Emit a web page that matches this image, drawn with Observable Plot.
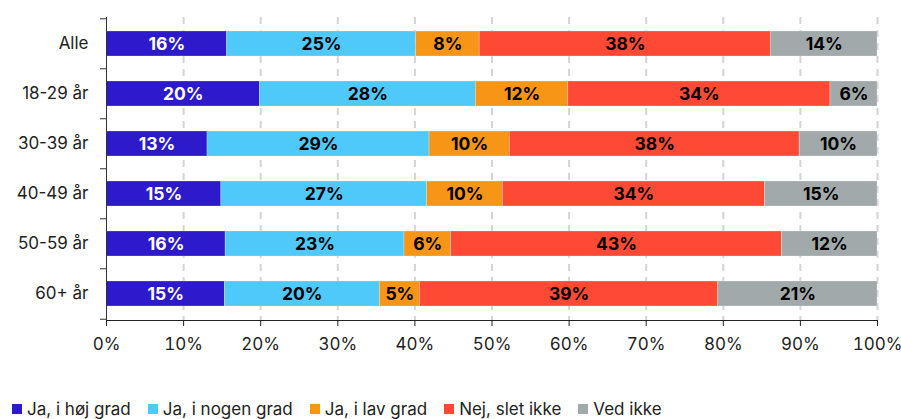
<!DOCTYPE html>
<html>
<head>
<meta charset="utf-8">
<script src="https://cdn.jsdelivr.net/npm/d3@7"></script>
<script src="https://cdn.jsdelivr.net/npm/@observablehq/plot@0.6"></script>
<style>
  html, body { margin: 0; padding: 0; background: #fff; }
  body { width: 901px; height: 419px; overflow: hidden; font-family: Inter, "Liberation Sans", sans-serif; }
  #chart svg { display: block; }
  .legend { display: flex; align-items: center; margin-top: 24px; padding-left: 12px; font-size: 17px; line-height: 20px; color: #222; }
  .legend .item { display: flex; align-items: center; margin-right: 17px; }
  .legend .sw { width: 10px; height: 10px; margin-right: 5px; display: inline-block; }
</style>
</head>
<body>
<div id="chart"></div>
<script>
const categories = ["Alle", "18-29 år", "30-39 år", "40-49 år", "50-59 år", "60+ år"];
const seriesNames = ["Ja, i høj grad", "Ja, i nogen grad", "Ja, i lav grad", "Nej, slet ikke", "Ved ikke"];
const seriesColors = ["#2c1acb", "#4ec9f9", "#f79516", "#fe4a35", "#a2a9aa"];
// shares per category (in series order)
const values = [
  [15.65, 24.5, 8.25, 37.8, 13.8],
  [19.9, 28.0, 12.0, 34.0, 6.1],
  [13.1, 28.8, 10.4, 37.6, 10.1],
  [14.9, 26.7, 9.8, 34.0, 14.6],
  [15.45, 23.2, 6.05, 42.9, 12.4],
  [15.35, 20.1, 5.2, 38.7, 20.65]
];
// printed labels
const labels = [
  [16, 25, 8, 38, 14],
  [20, 28, 12, 34, 6],
  [13, 29, 10, 38, 10],
  [15, 27, 10, 34, 15],
  [16, 23, 6, 43, 12],
  [15, 20, 5, 39, 21]
];
const xTicks = [0, 10, 20, 30, 40, 50, 60, 70, 80, 90, 100];

const data = [];
categories.forEach((c, i) => seriesNames.forEach((s, j) => data.push({cat: c, series: s, value: values[i][j], label: labels[i][j]})));

const W = 901, H = 375;
const step = (320 - 17) / categories.length;

const plot = Plot.plot({
  width: W,
  height: H,
  marginLeft: 106,
  marginRight: 24,
  marginTop: 17,
  marginBottom: H - 320,
  style: {fontFamily: "Inter, 'Liberation Sans', sans-serif", fontSize: "17px", color: "#222", background: "#fff"},
  x: {domain: [0, 100], ticks: xTicks, tickFormat: d => d + "%", tickSize: 6, tickPadding: 11, label: null, line: true},
  y: {domain: categories, paddingInner: 0.5, paddingOuter: 0.25, tickSize: 0, tickPadding: 18, label: null},
  color: {domain: seriesNames, range: seriesColors},
  marks: [
    Plot.ruleX(xTicks.filter(d => d > 0), {x: d => d, stroke: "#d4d4d4", strokeWidth: 2, strokeDasharray: "7,6"}),
    Plot.barX(data, Plot.stackX({y: "cat", x: "value", fill: "series", stroke: "#fff", strokeOpacity: 0.5, strokeWidth: 0.5})),
    Plot.text(data, Plot.stackX({y: "cat", x: "value", z: "series", text: d => d.series === seriesNames[0] ? d.label + "%" : null, fill: "#fff", fontWeight: 700, fontSize: 17.5})),
    Plot.text(data, Plot.stackX({y: "cat", x: "value", z: "series", text: d => d.series !== seriesNames[0] ? d.label + "%" : null, fill: "#000", fontWeight: 700, fontSize: 17.5})),
    Plot.ruleX([0], {stroke: "#333", strokeWidth: 1}),
    Plot.ruleY(categories, {y: d => d, x1: -0.78, x2: 0, stroke: "#333", dy: -step / 2}),
    Plot.ruleY([categories[categories.length - 1]], {y: d => d, x1: -0.78, x2: 0, stroke: "#333", dy: step / 2})
  ]
});
document.getElementById("chart").appendChild(plot);

const legend = document.createElement("div");
legend.className = "legend";
seriesNames.forEach((s, i) => {
  const it = document.createElement("span");
  it.className = "item";
  const sw = document.createElement("span");
  sw.className = "sw";
  sw.style.background = seriesColors[i];
  it.appendChild(sw);
  it.appendChild(document.createTextNode(s));
  legend.appendChild(it);
});
document.body.appendChild(legend);
</script>
</body>
</html>
